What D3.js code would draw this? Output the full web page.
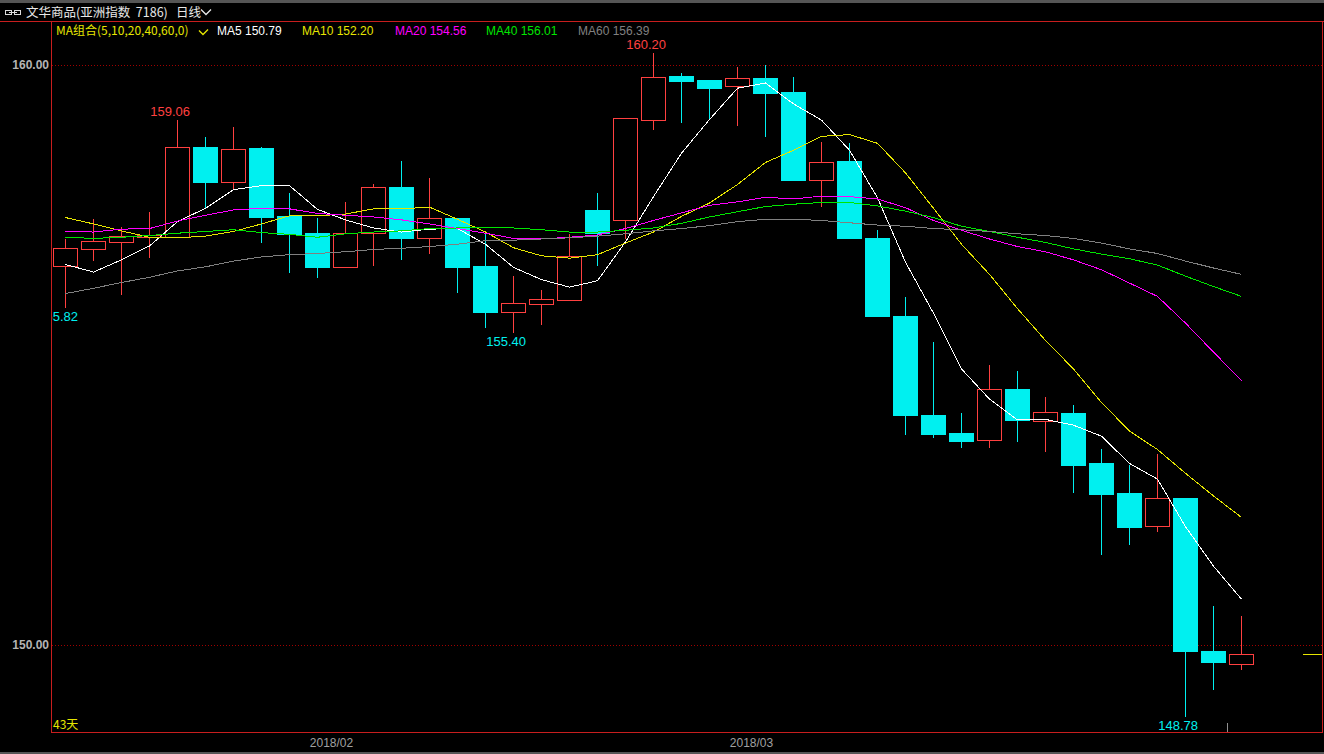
<!DOCTYPE html>
<html><head><meta charset="utf-8">
<script src="https://cdn.jsdelivr.net/npm/d3@7"></script>
<style>html,body{margin:0;padding:0;background:#000;overflow:hidden}</style>
</head><body><svg id="c" width="1324" height="754"></svg>
<script>
// ---- data ----
const opens  = [156.54,156.83,156.95,157.03,157.04,158.59,157.99,158.57,157.40,157.10,156.52,157.11,157.90,157.01,157.36,156.53,155.75,155.88,155.95,157.50,157.33,159.06,159.81,159.75,159.63,159.78,159.53,158.01,158.34,157.02,155.67,153.97,153.66,153.54,154.41,153.87,154.00,153.14,152.62,152.06,152.53,149.90,149.68];
const highs  = [157.00,157.34,157.21,157.47,159.06,158.76,158.93,158.59,157.79,157.36,157.64,157.95,158.34,158.05,157.36,157.13,156.36,156.12,157.08,157.79,159.08,160.20,159.87,159.75,159.96,160.00,159.79,158.67,158.66,157.16,156.00,155.22,154.00,154.83,154.72,154.28,154.14,153.38,153.11,153.29,152.53,150.67,150.50];
const lows   = [155.82,156.64,156.06,156.69,157.04,157.54,157.86,156.94,156.43,156.35,156.52,156.56,156.66,156.75,156.09,155.49,155.40,155.54,155.94,156.56,157.02,158.90,159.02,159.08,158.97,158.78,158.01,157.57,157.02,155.68,153.64,153.59,153.42,153.42,153.51,153.35,152.64,151.57,151.75,151.97,148.78,149.25,149.59];
const closes = [156.84,156.96,157.05,157.07,158.58,157.99,158.56,157.38,157.09,156.51,157.10,157.89,157.01,157.36,156.52,155.75,155.89,155.97,156.71,157.10,159.08,159.80,159.73,159.61,159.77,159.52,158.01,158.32,157.02,155.68,153.97,153.63,153.52,154.41,153.88,154.01,153.11,152.61,152.04,152.53,149.90,149.70,149.84];

const ma5  = [156.56,156.43,156.64,156.88,157.30,157.53,157.85,157.92,157.92,157.51,157.33,157.19,157.12,157.17,157.18,156.91,156.51,156.30,156.17,156.28,156.95,157.73,158.48,159.06,159.60,159.69,159.33,159.05,158.53,157.71,156.60,155.72,154.76,154.24,153.88,153.89,153.79,153.60,153.13,152.86,152.04,151.36,150.79];
const ma10 = [157.37,157.26,157.14,157.03,157.02,157.05,157.13,157.26,157.40,157.40,157.43,157.52,157.52,157.55,157.34,157.12,156.85,156.71,156.67,156.73,156.93,157.12,157.39,157.62,157.94,158.32,158.53,158.77,158.80,158.65,158.14,157.53,156.91,156.39,155.80,155.25,154.76,154.18,153.69,153.37,152.96,152.57,152.20];
const ma20 = [157.13,157.12,157.17,157.18,157.31,157.41,157.50,157.53,157.52,157.44,157.41,157.38,157.33,157.26,157.18,157.10,157.01,157.00,157.03,157.07,157.18,157.32,157.45,157.58,157.64,157.72,157.69,157.74,157.73,157.69,157.54,157.32,157.15,157.00,156.87,156.78,156.64,156.47,156.24,156.01,155.55,155.05,154.56];
const ma40 = [157.03,157.01,157.03,157.06,157.10,157.13,157.16,157.11,157.08,157.03,157.09,157.12,157.14,157.18,157.19,157.20,157.19,157.16,157.12,157.12,157.15,157.19,157.27,157.38,157.47,157.56,157.60,157.63,157.63,157.57,157.48,157.37,157.22,157.13,157.03,156.94,156.83,156.74,156.66,156.55,156.36,156.18,156.01];
const ma60 = [156.06,156.15,156.25,156.34,156.45,156.52,156.62,156.69,156.73,156.75,156.78,156.82,156.84,156.87,156.91,156.97,156.98,157.00,157.02,157.05,157.09,157.14,157.18,157.23,157.30,157.34,157.34,157.32,157.28,157.24,157.22,157.18,157.16,157.13,157.09,157.06,157.01,156.93,156.83,156.75,156.62,156.50,156.39];

const maNames  = ["MA5","MA10","MA20","MA40","MA60"];
const priceTicks = [150, 160];
const dateLabels = ["2018/02","2018/03"];
const dateIdx    = [10, 25];
const highMarks  = [4, 21];
const lowMarks   = [0, 16, 40];
const titleText  = "文华商品(亚洲指数\u00a0\u00a07186)";
const periodText = "日线";
const maGroupText = "MA组合(5,10,20,40,60,0)";

// ---- drawing ----
const svg = d3.select("#c");
const W = 1324, H = 754;
const L = 51, R = 1322, T = 21, B = 732;
const x = d3.scaleLinear().domain([0, closes.length - 1]).range([65.5, 1241.5]);
const y = d3.scaleLinear().domain([150, 160]).range([645, 65]);
const ry = v => Math.round(y(v));

const RED = "#ff4040", CYAN = "#00f0f0", FRAME = "#c81e1e";
const FONT = "'Liberation Sans', Arial, 'Noto Sans CJK SC', sans-serif";
const CJK = "'Noto Sans CJK SC', 'Liberation Sans', sans-serif";

svg.append("rect").attr("width", W).attr("height", H).attr("fill", "#000");
svg.append("rect").attr("x",0).attr("y",0).attr("width",W).attr("height",3).attr("fill","#555");
svg.append("rect").attr("x",0).attr("y",752).attr("width",W).attr("height",2).attr("fill","#555");

// header
const icon = svg.append("g").attr("fill","none").attr("stroke","#ddd").attr("shape-rendering","crispEdges");
icon.append("rect").attr("x",5.5).attr("y",10.5).attr("width",6).attr("height",4);
icon.append("rect").attr("x",14.5).attr("y",10.5).attr("width",6).attr("height",4);
icon.append("line").attr("x1",9).attr("x2",17).attr("y1",12.5).attr("y2",12.5);
svg.append("text").attr("x",26).attr("y",17).attr("fill","#e8e8e8").attr("font-family",CJK).attr("font-size",12.5).text(titleText);
svg.append("text").attr("x",176).attr("y",17).attr("fill","#e8e8e8").attr("font-family",CJK).attr("font-size",12.5).text(periodText);
svg.append("path").attr("d","M201,9.5 L206,14.5 L211,9.5").attr("stroke","#e8e8e8").attr("fill","none").attr("stroke-width",1.3);

// frame
const fr = svg.append("g").attr("stroke",FRAME).attr("shape-rendering","crispEdges");
fr.append("line").attr("x1",0).attr("x2",W).attr("y1",T+0.5).attr("y2",T+0.5);
fr.append("line").attr("x1",L+0.5).attr("x2",L+0.5).attr("y1",T).attr("y2",B+1);
fr.append("line").attr("x1",R+0.5).attr("x2",R+0.5).attr("y1",T).attr("y2",B+1);
fr.append("line").attr("x1",L).attr("x2",R+1).attr("y1",B+0.5).attr("y2",B+0.5);

// grid + y labels
svg.append("g").selectAll("line").data(priceTicks).join("line")
  .attr("x1",L+1).attr("x2",R).attr("y1",d=>ry(d)+0.5).attr("y2",d=>ry(d)+0.5)
  .attr("stroke","#a00000").attr("stroke-dasharray","1,2").attr("shape-rendering","crispEdges");
const yAxis = d3.axisLeft(y).tickValues(priceTicks).tickFormat(d3.format(".2f")).tickSize(0).tickPadding(2);
const ya = svg.append("g").attr("transform",`translate(${L},0)`).call(yAxis);
ya.select(".domain").remove();
ya.selectAll("text").attr("fill","#b4b4b4").attr("font-family",FONT).attr("font-size",12).attr("font-weight","bold");

// date labels
svg.append("g").selectAll("text").data(dateIdx).join("text")
  .attr("x",d=>x(d-0.5)).attr("y",747).attr("text-anchor","middle")
  .attr("fill","#a0a0a0").attr("font-family",FONT).attr("font-size",12)
  .text((d,i)=>dateLabels[i]);

// clip
svg.append("clipPath").attr("id","plot").append("rect").attr("x",L+1).attr("y",T+1).attr("width",R-L-1).attr("height",B-T-1);
const plot = svg.append("g").attr("clip-path","url(#plot)");

// candles
const idx = d3.range(closes.length);
const cg = plot.append("g").attr("shape-rendering","crispEdges");
idx.forEach(i => {
  const cx = x(i), o = opens[i], c = closes[i];
  const yh = ry(highs[i]), yl = ry(lows[i]), yo = ry(o), yc = ry(c);
  if (c >= o) {
    const top = yc, bot = Math.max(yo, yc + 1);
    if (yh < top) cg.append("line").attr("x1",cx).attr("x2",cx).attr("y1",yh).attr("y2",top).attr("stroke",RED);
    if (yl > bot) cg.append("line").attr("x1",cx).attr("x2",cx).attr("y1",bot).attr("y2",yl+1).attr("stroke",RED);
    cg.append("rect").attr("x",cx-12).attr("y",top+0.5).attr("width",24).attr("height",bot-top)
      .attr("fill","#000").attr("stroke",RED);
  } else {
    cg.append("line").attr("x1",cx).attr("x2",cx).attr("y1",yh).attr("y2",yl+1).attr("stroke",CYAN);
    cg.append("rect").attr("x",cx-12.5).attr("y",yo).attr("width",25).attr("height",Math.max(1,yc-yo+1))
      .attr("fill",CYAN);
  }
});

// MA lines
const maSeries = [ma5, ma10, ma20, ma40, ma60];
const maColors = ["#ffffff", "#e6e600", "#ff00ff", "#00e600", "#808080"];
const line = d3.line().x((d,i)=>x(i)).y(d=>y(d));
maSeries.forEach((s,k) => {
  plot.append("path").datum(s).attr("d",line).attr("fill","none")
    .attr("stroke",maColors[k]).attr("stroke-width",1).attr("shape-rendering","crispEdges");
});

// high / low marks
const f2 = d3.format(".2f");
plot.append("g").selectAll("text").data(highMarks).join("text")
  .attr("x",i=>x(i)+12.5).attr("y",i=>y(highs[i])-4).attr("text-anchor","end")
  .attr("fill",RED).attr("font-family",FONT).attr("font-size",13).text(i=>f2(highs[i]));
plot.append("g").selectAll("text").data(lowMarks).join("text")
  .attr("x",i=>x(i)+12.5).attr("y",i=>y(lows[i])+14).attr("text-anchor","end")
  .attr("fill",CYAN).attr("font-family",FONT).attr("font-size",13).text(i=>f2(lows[i]));

// last-price marker and small tick
const last = closes.length - 1;
svg.append("line").attr("x1",1303).attr("x2",R).attr("y1",ry(closes[last])+0.5).attr("y2",ry(closes[last])+0.5)
  .attr("stroke","#e6e600").attr("shape-rendering","crispEdges");
svg.append("line").attr("x1",x(last-0.5)).attr("x2",x(last-0.5)).attr("y1",723).attr("y2",B)
  .attr("stroke","#909090").attr("shape-rendering","crispEdges");

// day count
svg.append("text").attr("x",53).attr("y",729).attr("fill","#e6e600").attr("font-family",CJK).attr("font-size",12)
  .text(closes.length + "天");

// legend
svg.append("text").attr("x",56).attr("y",35).attr("fill","#e6e600").attr("font-family",CJK).attr("font-size",12).text(maGroupText);
svg.append("path").attr("d","M199,30.5 L203,34.5 L208,29.5").attr("stroke","#e6e600").attr("fill","none").attr("stroke-width",1.3);
const legX = [217, 302, 395, 486, 578];
maNames.forEach((n,k) => {
  const s = maSeries[k];
  svg.append("text").attr("x",legX[k]).attr("y",35).attr("fill",maColors[k])
    .attr("font-family",FONT).attr("font-size",12).text(n + " " + f2(s[s.length-1]));
});
</script></body></html>
